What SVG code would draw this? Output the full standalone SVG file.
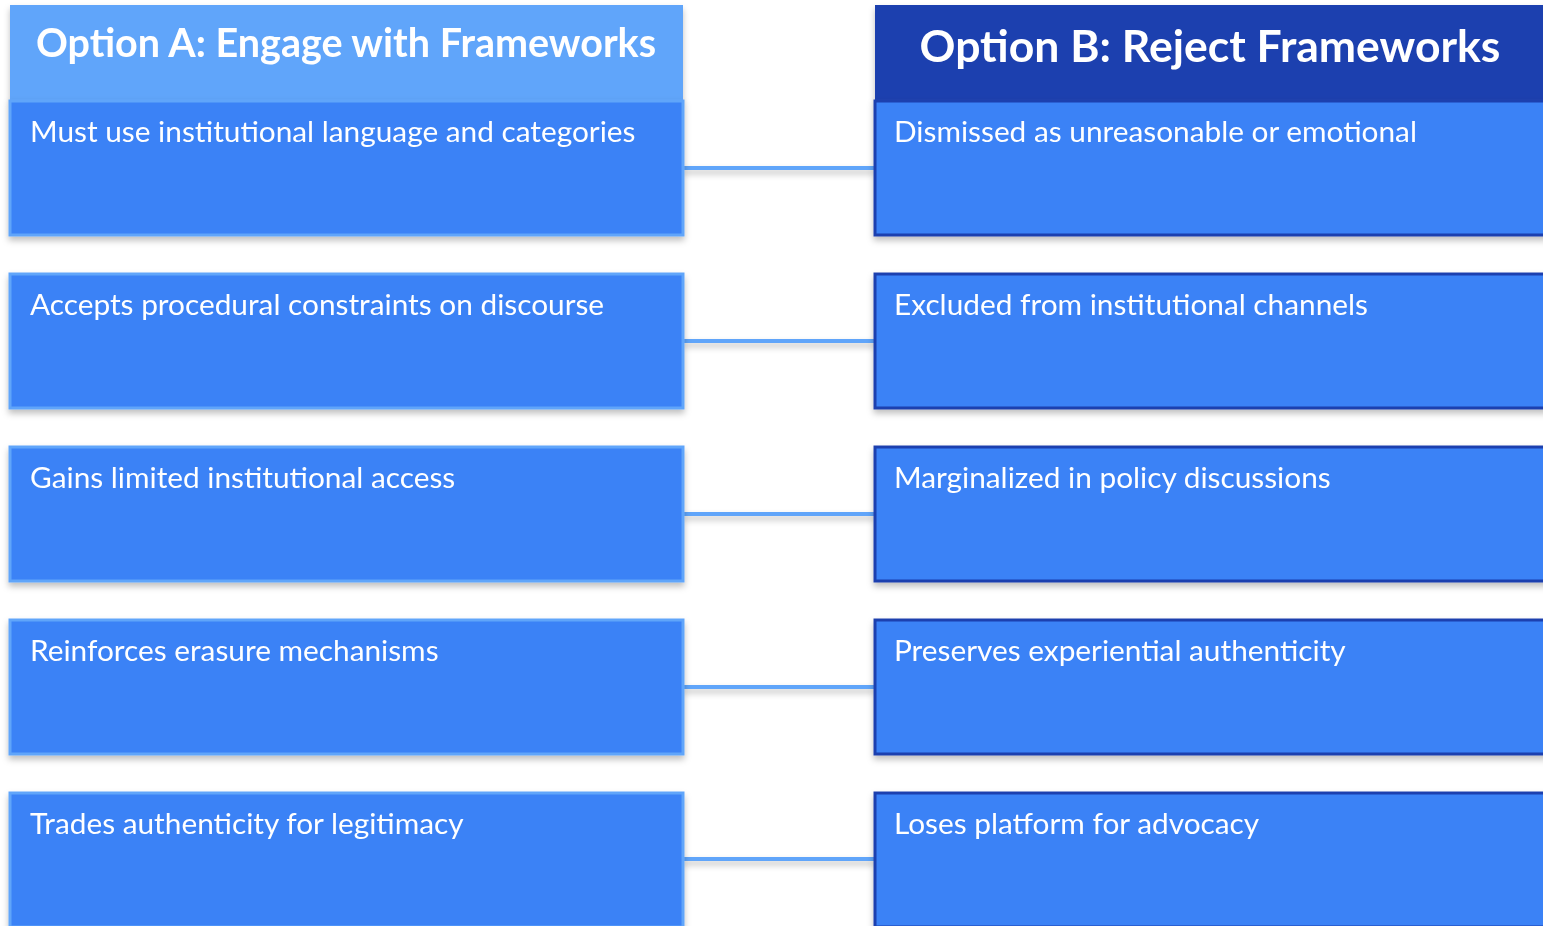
<svg xmlns="http://www.w3.org/2000/svg" width="1543" height="926" viewBox="0 0 1543 926">
<style>
.hdrA{fill:#60a5fa}
.hdrB{fill:#1e40af}
.cardA{fill:#3b82f6;stroke:#60a5fa;stroke-width:3}
.cardB{fill:#3b82f6;stroke:#1e40af;stroke-width:3}
.ht{font-family:Lato,"Liberation Sans",sans-serif;font-weight:bold;fill:#ffffff;text-anchor:middle}
.ct{font-family:Lato,"Liberation Sans",sans-serif;font-size:29.8px;fill:#ffffff}
.conn{stroke:#60a5fa;stroke-width:4;fill:none}
</style>
<defs>
<filter id="sh" x="-10%" y="-20%" width="120%" height="150%">
<feDropShadow dx="0" dy="4" stdDeviation="3" flood-color="#000" flood-opacity="0.25"/>
</filter>
</defs>
<rect width="1543" height="926" fill="#ffffff"/>
<g id="connectors" filter="url(#sh)">
<line class="conn" x1="683" y1="168" x2="875" y2="168"/>
<line class="conn" x1="683" y1="341" x2="875" y2="341"/>
<line class="conn" x1="683" y1="514" x2="875" y2="514"/>
<line class="conn" x1="683" y1="687" x2="875" y2="687"/>
<line class="conn" x1="683" y1="859" x2="875" y2="859"/>
</g>
<g id="headerA" filter="url(#sh)">
<rect class="hdrA" x="10" y="5" width="673" height="96"/>
<text class="ht" x="346" y="57" font-size="39.5">Option A: Engage with Frameworks</text>
</g>
<g id="headerB" filter="url(#sh)">
<rect class="hdrB" x="875" y="5" width="673" height="96"/>
<text class="ht" x="1210" y="62" font-size="44.5">Option B: Reject Frameworks</text>
</g>
<g id="a1" filter="url(#sh)"><rect class="cardA" x="10" y="101" width="673" height="134"/><text class="ct" x="30" y="142">Must use institutional language and categories</text></g>
<g id="a2" filter="url(#sh)"><rect class="cardA" x="10" y="274" width="673" height="134"/><text class="ct" x="30" y="315">Accepts procedural constraints on discourse</text></g>
<g id="a3" filter="url(#sh)"><rect class="cardA" x="10" y="447" width="673" height="134"/><text class="ct" x="30" y="488">Gains limited institutional access</text></g>
<g id="a4" filter="url(#sh)"><rect class="cardA" x="10" y="620" width="673" height="134"/><text class="ct" x="30" y="661">Reinforces erasure mechanisms</text></g>
<g id="a5" filter="url(#sh)"><rect class="cardA" x="10" y="793" width="673" height="134"/><text class="ct" x="30" y="834">Trades authenticity for legitimacy</text></g>
<g id="b1" filter="url(#sh)"><rect class="cardB" x="875" y="101" width="673" height="134"/><text class="ct" x="894" y="142">Dismissed as unreasonable or emotional</text></g>
<g id="b2" filter="url(#sh)"><rect class="cardB" x="875" y="274" width="673" height="134"/><text class="ct" x="894" y="315">Excluded from institutional channels</text></g>
<g id="b3" filter="url(#sh)"><rect class="cardB" x="875" y="447" width="673" height="134"/><text class="ct" x="894" y="488">Marginalized in policy discussions</text></g>
<g id="b4" filter="url(#sh)"><rect class="cardB" x="875" y="620" width="673" height="134"/><text class="ct" x="894" y="661">Preserves experiential authenticity</text></g>
<g id="b5" filter="url(#sh)"><rect class="cardB" x="875" y="793" width="673" height="134"/><text class="ct" x="894" y="834">Loses platform for advocacy</text></g>
</svg>
